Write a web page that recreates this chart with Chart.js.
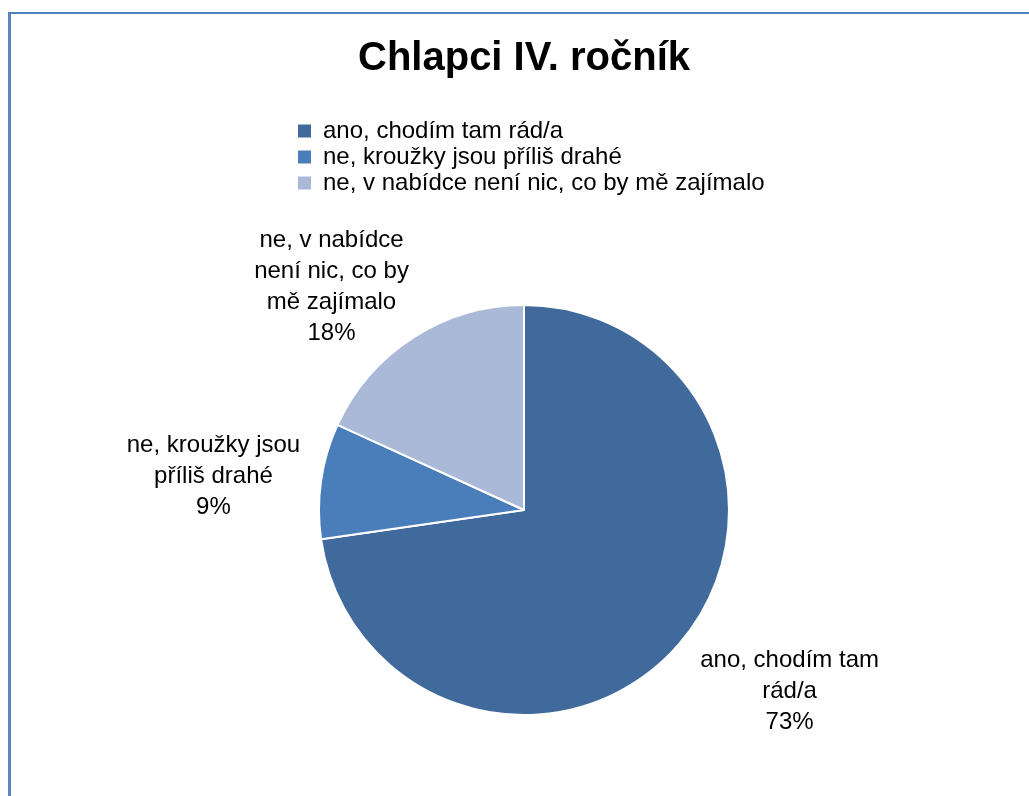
<!DOCTYPE html>
<html>
<head>
<meta charset="utf-8">
<script src="https://cdn.jsdelivr.net/npm/chart.js@4/dist/chart.umd.min.js"></script>
<style>
  body { margin: 0; background: #fff; overflow: hidden; }
  #frame {
    position: absolute; left: 8px; top: 12px; right: -10px; bottom: -10px;
    border-left: 3px solid #5A86BF; border-top: 2px solid #4F81BD;
  }
  #chart { position: absolute; left: 0; top: 0; }
</style>
</head>
<body>
<div id="frame"></div>
<canvas id="chart" width="1029" height="796"></canvas>
<script>
// 回答の区分と人数
const categories = ['ano, chodím tam rád/a', 'ne, kroužky jsou příliš drahé', 'ne, v nabídce není nic, co by mě zajímalo'];
const labelLines = [
  ['ano, chodím tam', 'rád/a'],
  ['ne, kroužky jsou', 'příliš drahé'],
  ['ne, v nabídce', 'není nic, co by', 'mě zajímalo'],
];
const counts = [8, 1, 2];

const colors = ['#416A9C', '#4A7EBB', '#AAB9D7'];
const FONT = "'Liberation Sans', Arial, sans-serif";

// データラベル（円の外側に表示）
const labelNudge = [[28, 4], [-2, 5], [-29, 18]];
const outsideLabels = {
  id: 'outsideLabels',
  afterDatasetsDraw(chart) {
    const ctx = chart.ctx;
    const meta = chart.getDatasetMeta(0);
    const total = counts.reduce((a, b) => a + b, 0);
    const lineH = 31;
    ctx.save();
    ctx.font = '24px ' + FONT;
    ctx.fillStyle = '#000';
    ctx.textAlign = 'center';
    ctx.textBaseline = 'middle';
    meta.data.forEach((arc, i) => {
      const p = arc.getProps(['x', 'y', 'startAngle', 'endAngle', 'outerRadius'], true);
      const mid = (p.startAngle + p.endAngle) / 2;
      const lines = labelLines[i].concat([Math.round(counts[i] / total * 100) + '%']);
      const w = Math.max(...lines.map(t => ctx.measureText(t).width));
      const h = lines.length * lineH;
      const r = p.outerRadius + 20;
      const cx = p.x + Math.cos(mid) * r + Math.cos(mid) * w / 2 + labelNudge[i][0];
      const cy = p.y + Math.sin(mid) * r + Math.sin(mid) * h / 2 + labelNudge[i][1];
      lines.forEach((t, j) => {
        ctx.fillText(t, cx, cy - h / 2 + lineH / 2 + j * lineH);
      });
    });
    ctx.restore();
  }
};

// 凡例の下に余白を取り、長い項目が切れないようにする
const legendSpace = {
  id: 'legendSpace',
  beforeInit(chart) {
    const fit = chart.legend.fit;
    chart.legend.fit = function () {
      fit.bind(chart.legend)();
      this.height = 187;
    };
  },
  afterLayout(chart) {
    chart.legend.right += 60;
    chart.legend.width += 60;
  }
};

const ctx = document.getElementById('chart').getContext('2d');
new Chart(ctx, {
  type: 'pie',
  data: {
    labels: categories,
    datasets: [{
      data: counts,
      backgroundColor: colors,
      borderColor: '#fff',
      borderWidth: 2,
    }],
  },
  options: {
    responsive: false,
    animation: false,
    layout: { padding: { left: 296, right: 277, top: 0, bottom: 80 } },
    plugins: {
      title: {
        display: true,
        text: 'Chlapci IV. ročník',
        color: '#000',
        font: { family: FONT, size: 40, weight: 'bold', lineHeight: 1.2 },
        padding: { top: 35, bottom: 34 },
      },
      legend: {
        position: 'top',
        align: 'start',
        labels: {
          color: '#000',
          font: { family: FONT, size: 24 },
          boxWidth: 13,
          boxHeight: 13,
          padding: 2,
          generateLabels(chart) {
            const items = Chart.overrides.pie.plugins.legend.labels.generateLabels(chart);
            items.forEach(it => { it.lineWidth = 0; });
            return items;
          },
        },
      },
      tooltip: { enabled: false },
    },
  },
  plugins: [outsideLabels, legendSpace],
});
</script>
</body>
</html>
